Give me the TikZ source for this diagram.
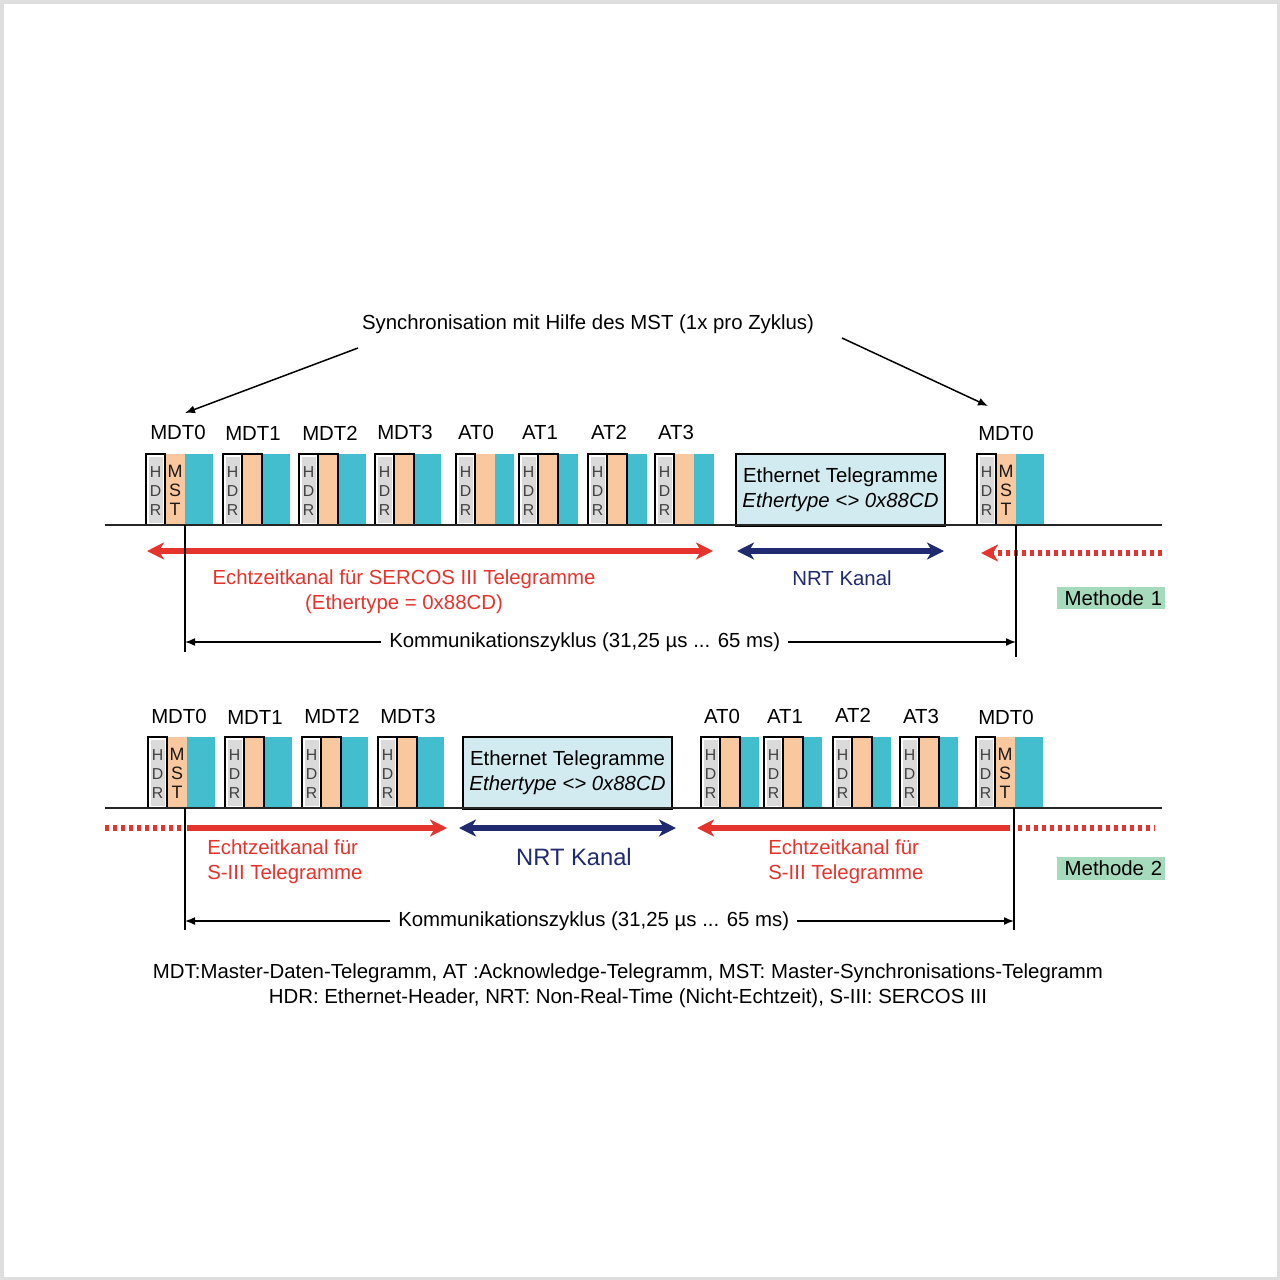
\documentclass[tikz,border=0pt]{standalone}
\usepackage{fontspec}
\setmainfont{Liberation Sans}
\usetikzlibrary{arrows.meta}
\definecolor{rd}{RGB}{229,52,46}
\definecolor{nv}{RGB}{31,42,112}
\definecolor{cy}{RGB}{66,190,206}
\definecolor{og}{RGB}{250,200,158}
\definecolor{hg}{RGB}{218,218,218}
\definecolor{eb}{RGB}{210,235,240}
\definecolor{gr}{RGB}{165,218,188}
\definecolor{fr}{RGB}{222,222,222}
\newcommand\fs[2]{\fontsize{#1}{#2}\selectfont}
\tikzset{
  BigTip/.tip={Stealth[length=3.4mm,width=3.4mm,inset=1mm]},
  SmTip/.tip={Latex[length=2mm,width=1.6mm]},
  lbl/.style={anchor=base, font=\fs{11.6}{14.2}, inner sep=0pt},
  hdrtxt/.style={align=center, font=\fs{9}{10.6}, text=black!75, inner sep=0pt},
  msttxt/.style={align=center, font=\fs{10.2}{10.8}, text=black!90, inner sep=0pt},
  hdrbox/.style={draw=black, line width=0.4mm, fill=white},
  obox/.style={draw=black, line width=0.4mm, fill=og},
  obnb/.style={fill=og},
  baseln/.style={draw=black!85, line width=0.4mm},
  vline/.style={draw=black, line width=0.3mm},
  thinarr/.style={draw=black, line width=0.3mm},
  redarr/.style={draw=rd, line width=1.1mm},
  navarr/.style={draw=nv, line width=1.1mm},
  reddot/.style={draw=rd, line width=1.1mm, dash pattern=on 0.8mm off 0.8mm},
  ethbox/.style={draw=black, line width=0.4mm, fill=eb, align=center,
     minimum width=41.8mm, minimum height=14.4mm, inner sep=0pt, font=\fs{11.6}{14.2}},
  methbox/.style={fill=gr, anchor=east, text width=20.6mm, align=right,
     minimum height=4.5mm, inner xsep=0.5mm, inner ysep=0pt, font=\fs{11.6}{14.2}},
  komm/.style={fill=white, inner xsep=1.6mm, inner ysep=0.5mm, font=\fs{11.6}{14.2}},
  redtxt/.style={text=rd, font=\fs{11.6}{14.2}, inner sep=0pt},
}
% #1 name, #2 x, #3 top, #4 cyan width, #5 orange style
\newcommand\tgd[5]{%
  \fill[cy] (#2+39,#3) rectangle ++(#4,71);
  \path[#5] (#2+19,#3) rectangle ++(20,71);
  \draw[hdrbox] (#2,#3) rectangle ++(19,71);
  \fill[hg] (#2+2.5,#3+2.5) rectangle ++(14,66);
  \node[hdrtxt] (#1h) at (#2+9.5,#3+37) {H\\D\\R};}
\newcommand\tgm[4]{%
  \tgd{#1}{#2}{#3}{#4}{obnb}%
  \node[msttxt] (#1m) at (#2+29,#3+36) {M\\S\\T};}
\begin{document}
\begin{tikzpicture}[x=0.2mm,y=-0.2mm]
\useasboundingbox (0,0) rectangle (1280,1280);
\fill[white] (0,0) rectangle (1280,1280);
\draw[fr, line width=0.7mm] (1.75,1.75) rectangle (1278.25,1278.25);

% ---------- title and sync arrows
\node[lbl] (title) at (588,329) {Synchronisation mit Hilfe des MST (1x pro Zyklus)};
\coordinate (sl0) at (358,348); \coordinate (sl1) at (185,413);
\coordinate (sr0) at (842,338); \coordinate (sr1) at (988,406);
\draw[thinarr, -SmTip] (sl0) -- (sl1);
\draw[thinarr, -SmTip] (sr0) -- (sr1);

% ---------- row 1 (Methode 1)
\tgm{a0}{146}{454}{28}
\tgd{a1}{223}{454}{28}{obox}
\tgd{a2}{299}{454}{28}{obox}
\tgd{a3}{375}{454}{27}{obox}
\tgd{a4}{456}{454}{19}{obnb}
\tgd{a5}{519}{454}{20}{obox}
\tgd{a6}{588}{454}{20}{obox}
\tgd{a7}{655}{454}{20}{obnb}
\tgm{a8}{977}{454}{28}
\node[ethbox] (eth1) at (840.5,490) {Ethernet Telegramme\\\textit{Ethertype <> 0x88CD}};

\node[lbl] (la0) at (178,439) {MDT0};
\node[lbl] (la1) at (253,440) {MDT1};
\node[lbl] (la2) at (330,440) {MDT2};
\node[lbl] (la3) at (405,439) {MDT3};
\node[lbl] (la4) at (476,439) {AT0};
\node[lbl] (la5) at (540,439) {AT1};
\node[lbl] (la6) at (609,439) {AT2};
\node[lbl] (la7) at (676,439) {AT3};
\node[lbl] (la8) at (1006,440) {MDT0};

\coordinate (b1l) at (105,525); \coordinate (b1r) at (1162,525);
\draw[baseln] (b1l) -- (b1r);
\coordinate (v1a) at (185,525); \coordinate (v1b) at (185,652);
\coordinate (v1c) at (1016,525); \coordinate (v1d) at (1016,657);

\coordinate (r1a) at (147,551); \coordinate (r1b) at (713,551);
\coordinate (n1a) at (737,551); \coordinate (n1b) at (944,551);
\coordinate (d1a) at (1162,553); \coordinate (d1b) at (981,553);
\draw[redarr, BigTip-BigTip] (r1a) -- (r1b);
\draw[navarr, BigTip-BigTip] (n1a) -- (n1b);
\draw[reddot, -BigTip] (d1a) -- (d1b);
\draw[vline] (v1a) -- (v1b);
\draw[vline] (v1c) -- (v1d);

\node[redtxt, align=center] (e1) at (404,592) {Echtzeitkanal für SERCOS III Telegramme\\(Ethertype = 0x88CD)};
\node[lbl, text=nv] (nrt1) at (842,585) {NRT Kanal};
\node[methbox] (m1) at (1165,598) {Methode 1};

\coordinate (k1a) at (185,642); \coordinate (k1b) at (1016,642);
\draw[thinarr, SmTip-SmTip] (k1a) -- node[komm, pos=0.481] (kt1) {Kommunikationszyklus (31,25 µs ... 65 ms)} (k1b);

% ---------- row 2 (Methode 2)
\tgm{b0}{148}{737}{28}
\tgd{b1}{225}{737}{28}{obox}
\tgd{b2}{302}{737}{27}{obox}
\tgd{b3}{378}{737}{27}{obox}
\tgd{b4}{701}{737}{19}{obox}
\tgd{b5}{764}{737}{19}{obox}
\tgd{b6}{833}{737}{19}{obox}
\tgd{b7}{900}{737}{19}{obox}
\tgm{b8}{976}{737}{28}
\node[ethbox] (eth2) at (567.5,773) {Ethernet Telegramme\\\textit{Ethertype <> 0x88CD}};

\node[lbl] (lb0) at (179,723) {MDT0};
\node[lbl] (lb1) at (255,724) {MDT1};
\node[lbl] (lb2) at (332,723) {MDT2};
\node[lbl] (lb3) at (408,723) {MDT3};
\node[lbl] (lb4) at (722,723) {AT0};
\node[lbl] (lb5) at (785,723) {AT1};
\node[lbl] (lb6) at (853,722) {AT2};
\node[lbl] (lb7) at (921,723) {AT3};
\node[lbl] (lb8) at (1006,724) {MDT0};

\coordinate (b2l) at (105,808); \coordinate (b2r) at (1162,808);
\draw[baseln] (b2l) -- (b2r);
\coordinate (v2a) at (185,808); \coordinate (v2b) at (185,930);
\coordinate (v2c) at (1014,808); \coordinate (v2d) at (1014,930);

\coordinate (d2a) at (105,828); \coordinate (d2b) at (183,828);
\coordinate (r2a) at (187,828); \coordinate (r2b) at (447,828);
\coordinate (n2a) at (459,828); \coordinate (n2b) at (676,828);
\coordinate (r2c) at (1010,828); \coordinate (r2d) at (697,828);
\coordinate (d2c) at (1018,828); \coordinate (d2d) at (1155,828);
\draw[reddot] (d2a) -- (d2b);
\draw[redarr, -BigTip] (r2a) -- (r2b);
\draw[navarr, BigTip-BigTip] (n2a) -- (n2b);
\draw[redarr, -BigTip] (r2c) -- (r2d);
\draw[reddot] (d2c) -- (d2d);
\draw[vline] (v2a) -- (v2b);
\draw[vline] (v2c) -- (v2d);

\node[redtxt, align=left, anchor=west] (e2) at (207,862) {Echtzeitkanal für\\S-III Telegramme};
\node[redtxt, align=left, anchor=west] (e3) at (768,862) {Echtzeitkanal für\\S-III Telegramme};
\node[lbl, text=nv, font=\fs{13.5}{16}] (nrt2) at (574,865) {NRT Kanal};
\node[methbox] (m2) at (1165,868.5) {Methode 2};

\coordinate (k2a) at (185,921); \coordinate (k2b) at (1014,921);
\draw[thinarr, SmTip-SmTip] (k2a) -- node[komm, pos=0.493] (kt2) {Kommunikationszyklus (31,25 µs ... 65 ms)} (k2b);

% ---------- legend
\node[align=center, font=\fs{11.6}{14.2}, inner sep=0pt] (leg) at (628,986)
  {MDT:Master-Daten-Telegramm, AT :Acknowledge-Telegramm, MST: Master-Synchronisations-Telegramm\\
   HDR: Ethernet-Header, NRT: Non-Real-Time (Nicht-Echtzeit), S-III: SERCOS III};
\end{tikzpicture}
\end{document}
